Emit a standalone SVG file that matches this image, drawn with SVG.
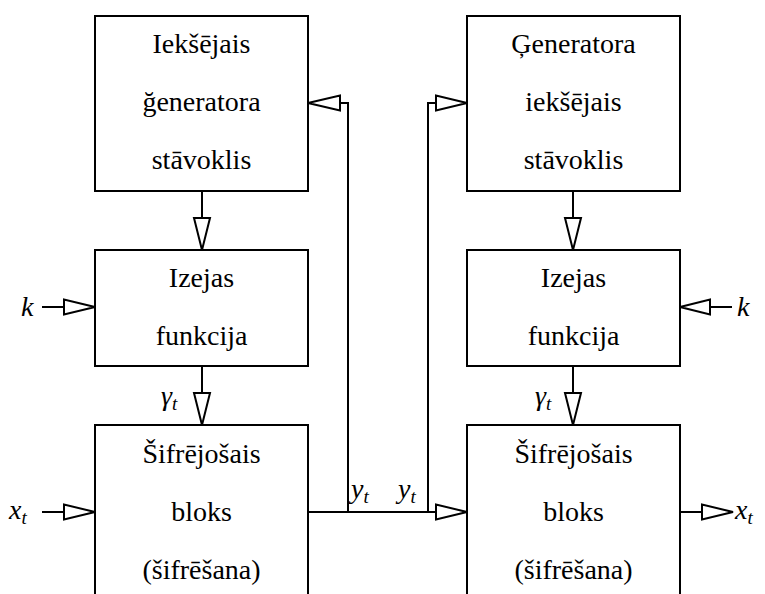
<svg xmlns="http://www.w3.org/2000/svg" width="765" height="594" viewBox="0 0 765 594">
<style>
.box{fill:#fff;stroke:#000;stroke-width:2}
.ln{fill:none;stroke:#000;stroke-width:2}
.ah{fill:#fff;stroke:#000;stroke-width:2;stroke-linejoin:miter}
.t{font-size:28px;text-anchor:middle;fill:#000}
.m{font-size:28px;font-style:italic;fill:#000}
.s{font-size:19px}
</style>
<rect width="765" height="594" fill="#fff"/>
<g font-family="Liberation Serif, DejaVu Serif, serif">
<g id="n1"><rect class="box" x="95" y="16" width="213" height="175"/>
<text class="t" x="201.5" y="53">Iekšējais</text><text class="t" x="201.5" y="111">ğeneratora</text><text class="t" x="201.5" y="169">stāvoklis</text></g>
<g id="n2"><rect class="box" x="95" y="250" width="213" height="116"/>
<text class="t" x="201.5" y="287">Izejas</text><text class="t" x="201.5" y="345">funkcija</text></g>
<g id="n3"><rect class="box" x="95" y="425" width="213" height="185"/>
<text class="t" x="201.5" y="463">Šifrējošais</text><text class="t" x="201.5" y="521">bloks</text><text class="t" x="201.5" y="579">(šifrēšana)</text></g>
<g id="n4"><rect class="box" x="467" y="16" width="213" height="175"/>
<text class="t" x="573.5" y="53">Ģeneratora</text><text class="t" x="573.5" y="111">iekšējais</text><text class="t" x="573.5" y="169">stāvoklis</text></g>
<g id="n5"><rect class="box" x="467" y="250" width="213" height="116"/>
<text class="t" x="573.5" y="287">Izejas</text><text class="t" x="573.5" y="345">funkcija</text></g>
<g id="n6"><rect class="box" x="467" y="425" width="213" height="185"/>
<text class="t" x="573.5" y="463">Šifrējošais</text><text class="t" x="573.5" y="521">bloks</text><text class="t" x="573.5" y="579">(šifrēšana)</text></g>
<g id="connectors">
<path class="ln" d="M202,191V218 M202,366V393 M573,191V218 M573,366V393"/>
<polygon class="ah" points="194,218 210,218 202,250"/>
<polygon class="ah" points="194,393 210,393 202,425"/>
<polygon class="ah" points="565,218 581,218 573,250"/>
<polygon class="ah" points="565,393 581,393 573,425"/>
<path class="ln" d="M42,307H64 M42,512H64 M710,307H732 M680,512H702"/>
<polygon class="ah" points="64,299.5 64,314.5 95,307"/>
<polygon class="ah" points="64,504.5 64,519.5 95,512"/>
<polygon class="ah" points="710,299.5 710,314.5 680,307"/>
<polygon class="ah" points="702,504.5 702,519.5 733,512"/>
<path class="ln" d="M308,512H436 M348,512V103H340 M428,512V103H436"/>
<polygon class="ah" points="436,504.5 436,519.5 467,512"/>
<polygon class="ah" points="340,95.5 340,110.5 308,103"/>
<polygon class="ah" points="436,95.5 436,110.5 467,103"/>
</g>
<g id="labels">
<text class="m" x="21" y="316">k</text>
<text class="m" x="737" y="316">k</text>
<text class="m" x="9" y="519">x<tspan class="s" dy="5">t</tspan></text>
<text class="m" x="735" y="519">x<tspan class="s" dy="5">t</tspan></text>
<text class="m" x="351" y="498">y<tspan class="s" dy="5">t</tspan></text>
<text class="m" x="398" y="498">y<tspan class="s" dy="5">t</tspan></text>
<text class="m" x="161" y="405">γ<tspan class="s" dy="5">t</tspan></text>
<text class="m" x="535" y="405">γ<tspan class="s" dy="5">t</tspan></text>
</g>
</g>
</svg>
